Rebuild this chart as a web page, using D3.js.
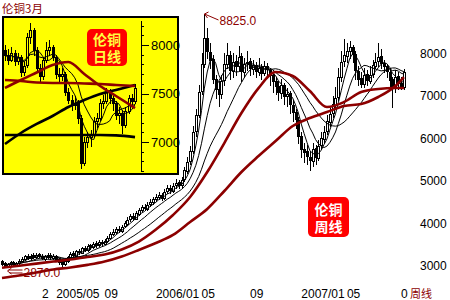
<!DOCTYPE html>
<html><head><meta charset="utf-8">
<script src="https://cdn.jsdelivr.net/npm/d3@7"></script>
<style>body{margin:0;background:#fff;}svg{display:block;}</style>
</head><body>
<svg id="c" width="450" height="300"></svg>
<script>
// ---------- weekly data (LME 3-month copper) ----------
const wOpen = [3000,2960,2890,2950,2990,2920,2970,3000,3060,3130,
3080,3150,3100,3170,3140,3070,3110,3160,3090,3140,
3070,3000,2940,3010,3100,3190,3140,3250,3210,3320,
3270,3380,3330,3430,3380,3470,3420,3490,3550,3650,
3690,3770,3720,3830,3890,3990,4070,4010,4120,4220,
4290,4240,4350,4390,4470,4510,4570,4490,4650,4730,
4670,4790,4860,4790,4930,5140,5360,5590,6060,6440,
7010,7640,8260,7940,7760,7290,7060,6940,7260,7640,
7860,7490,7710,7590,7830,7470,7660,7710,7540,7630,
7470,7570,7430,7610,7510,7390,7240,7130,6970,7160,
6890,6960,6690,6530,6340,5960,5640,5590,5470,5370,
5660,5440,5730,5890,6060,6290,6490,6690,6860,7340,
7710,7840,7960,8040,7890,7490,7310,7170,7410,7250,
7410,7610,7710,7830,7670,7610,7470,7290,7090,7360,
7210,7100];
const wHigh = [3040,2990,2970,3020,3020,2990,3050,3100,3160,3170,
3180,3190,3200,3210,3170,3150,3190,3190,3170,3160,
3090,3030,3050,3140,3230,3240,3280,3300,3350,3370,
3410,3420,3460,3480,3500,3510,3530,3610,3690,3760,
3820,3830,3870,3960,4040,4120,4130,4180,4270,4340,
4360,4390,4460,4520,4580,4630,4620,4700,4790,4800,
4850,4930,4920,5000,5230,5450,5720,6180,6600,7150,
7900,8825,8500,8150,7850,7400,7250,7400,7900,8150,
7950,7900,7850,8080,7900,7800,7950,7800,7750,7700,
7800,7650,7720,7680,7550,7450,7350,7250,7300,7200,
7080,7020,6800,6600,6400,6050,5800,5750,5600,5780,
5750,5850,6050,6200,6450,6620,6900,7100,7550,7950,
8230,8150,8200,8100,7950,7600,7450,7550,7500,7600,
7750,7900,8140,8000,7750,7650,7550,7350,7500,7450,
7350,7520];
const wLow = [2920,2870,2880,2920,2900,2890,2940,2980,3040,3060,
3060,3080,3080,3100,3050,3040,3090,3070,3060,3030,
2950,2890,2920,2990,3080,3110,3120,3180,3190,3240,
3250,3300,3310,3350,3360,3390,3400,3460,3530,3620,
3660,3690,3700,3800,3860,3950,3970,3990,4090,4180,
4200,4210,4310,4360,4430,4470,4440,4460,4610,4620,
4630,4740,4730,4760,4890,5080,5300,5550,5950,6400,
6950,7580,7800,7560,7200,6850,6650,6850,7150,7550,
7300,7350,7400,7500,7250,7350,7500,7400,7420,7350,
7380,7300,7380,7350,7150,7000,6950,6800,6850,6700,
6650,6500,6300,6150,5800,5450,5350,5300,5150,5250,
5300,5400,5650,5800,6000,6200,6400,6600,6800,7250,
7600,7700,7800,7700,7300,7150,7100,7100,7150,7200,
7350,7550,7600,7550,7450,7350,7100,6640,7000,7050,
7050,7070];
const wClose = [2950,2900,2940,2980,2930,2960,3010,3070,3120,3090,
3140,3110,3160,3130,3080,3120,3150,3100,3130,3060,
2990,2950,3020,3110,3180,3150,3240,3220,3310,3280,
3370,3340,3420,3390,3460,3430,3480,3560,3640,3700,
3760,3730,3820,3900,3980,4060,4020,4130,4210,4280,
4250,4340,4400,4460,4520,4560,4500,4640,4720,4680,
4780,4850,4800,4920,5150,5350,5600,6050,6450,7000,
7650,8250,7950,7750,7300,7050,6950,7250,7650,7850,
7500,7700,7600,7820,7480,7650,7700,7550,7620,7480,
7560,7440,7600,7520,7380,7250,7120,6980,7150,6900,
6950,6700,6520,6350,5950,5650,5580,5480,5380,5650,
5450,5720,5900,6050,6300,6480,6700,6850,7350,7700,
7850,7950,8050,7880,7500,7300,7180,7400,7260,7400,
7620,7700,7820,7680,7600,7480,7280,7100,7350,7200,
7120,7450];
// long moving averages (thick dark red), read at these week indices
const longIdx = [0,6,12,18,24,30,36,42,48,54,60,66,72,78,84,90,96,102,108,114,120,126,132,138,141];
const maMid  = [2852,2900,2950,2998,3045,3106,3162,3282,3468,3751,4094,4518,5106,5788,6494,7082,7459,7365,7012,6635,6753,6988,7059,7082,7082];
const maLong = [2612,2671,2741,2812,2859,2920,2998,3118,3271,3435,3624,3929,4235,4659,5106,5482,5835,6188,6376,6518,6659,6706,6871,7129,7341];
const priceTicks = [8000,7000,6000,5000,4000,3000];
const dateTickIdx = [14,19,36,54,70,87,105,121,140];
const dateTickLabels = ["2","2005/05","09","2006/01","05","09","2007/01","05","0"];

// ---------- daily inset data ----------
const dOpen = [7950,7900,7850,7920,7830,7880,7720,7790,8080,8150,7950,7760,7680,7850,7950,7980,7880,7700,7680,7700,7520,7430,7380,7400,7250,6780,7000,7050,7080,7220,7250,7400,7420,7520,7450,7400,7280,7300,7180,7320,7450,7420];
const dHigh = [8000,7960,7980,7950,7920,7900,7820,8120,8227,8180,7980,7800,7880,8030,8050,8000,7900,7760,7760,7720,7560,7480,7470,7430,7280,7050,7100,7120,7260,7300,7440,7480,7560,7550,7470,7420,7360,7330,7360,7480,7500,7600];
const dLow = [7850,7800,7830,7790,7800,7680,7690,7770,8020,7900,7720,7620,7650,7820,7900,7850,7660,7620,7640,7480,7400,7330,7340,7200,6730,6760,6950,6960,7050,7150,7230,7350,7400,7400,7330,7240,7200,7090,7150,7300,7380,7400];
const dClose = [7900,7850,7920,7830,7880,7720,7780,8080,8150,7950,7760,7680,7850,7950,7980,7880,7700,7680,7700,7520,7430,7380,7400,7250,6780,7000,7050,7080,7220,7250,7400,7420,7520,7450,7400,7280,7300,7180,7320,7450,7420,7560];
const dLineIdx = [0,5,10,15,20,25,30,35,41];
const dRedA = [7557,7639,7716,7794,7825,7701,7577,7474,7350];
const dRedB = [7639,7629,7613,7608,7608,7603,7598,7588,7577];
const dBlkA = [6979,7093,7186,7268,7361,7433,7495,7536,7588];
const dBlkB = [7072,7072,7072,7072,7072,7072,7072,7068,7050];
const insetLabelTicks = [8000,7500,7000];

// ---------- drawing ----------
const RED = "#8c0000";
const svg = d3.select("#c");
const NUM = "'Liberation Sans', Arial, sans-serif";
const CJK = "'Noto Sans CJK SC', sans-serif";

const x = d3.scaleLinear().domain([0, wClose.length - 1]).range([2, 403.9]);
const y = d3.scaleLinear().domain([2870, 8825]).range([267, 14]);

function movAvg(arr, n) {
  return arr.map((_, i) => d3.mean(arr.slice(Math.max(0, i - n + 1), i + 1)));
}

function drawCandles(g, xs, ys, O, H, L, C, hollowFill) {
  const data = O.map((o, i) => ({i, o, h: H[i], l: L[i], c: C[i]}));
  g.selectAll("line.wick").data(data).join("line").attr("class", "wick")
    .attr("x1", d => Math.round(xs(d.i)) + 0.5).attr("x2", d => Math.round(xs(d.i)) + 0.5)
    .attr("y1", d => Math.round(ys(d.h))).attr("y2", d => Math.round(ys(d.l)) + 1)
    .attr("stroke", "#000").attr("stroke-width", 1);
  g.selectAll("rect.body").data(data).join("rect").attr("class", "body")
    .each(function(d) {
      const cx = Math.round(xs(d.i));
      const top = Math.round(ys(Math.max(d.o, d.c)));
      const bot = Math.round(ys(Math.min(d.o, d.c)));
      const s = d3.select(this);
      if (d.c >= d.o) {
        s.attr("x", cx - 0.5).attr("y", top + 0.5).attr("width", 2).attr("height", Math.max(bot - top, 1))
         .attr("fill", hollowFill).attr("stroke", "#000").attr("stroke-width", 1);
      } else {
        s.attr("x", cx - 1).attr("y", top).attr("width", 3).attr("height", Math.max(bot - top, 1) + 1)
         .attr("fill", "#000");
      }
    });
}

// main candles
const gMain = svg.append("g").attr("shape-rendering", "crispEdges");
drawCandles(gMain, x, y, wOpen, wHigh, wLow, wClose, "#fff");

// thin MAs
const lineW = d3.line().x((d, i) => x(i)).y(d => y(d));
[5, 10, 20].forEach(n => {
  svg.append("path").attr("d", lineW(movAvg(wClose, n)))
    .attr("fill", "none").attr("stroke", "#000").attr("stroke-width", 1);
});
// thick MAs
const lineL = d3.line().x((d, k) => x(longIdx[k])).y(d => y(d)).curve(d3.curveMonotoneX);
[maMid, maLong].forEach(arr => {
  svg.append("path").attr("d", lineL(arr))
    .attr("fill", "none").attr("stroke", RED).attr("stroke-width", 2.6);
});

// annotations high / low
const hiI = d3.maxIndex(wHigh), loI = d3.minIndex(wLow);
const hx = Math.round(x(hiI)) + 0.5, hy = y(wHigh[hiI]);
svg.append("path").attr("d", `M${hx+4},${hy-2} L${hx},${hy} L${hx+3},${hy+4} M${hx},${hy} L${hx+14},${hy+6}`)
  .attr("fill", "none").attr("stroke", RED).attr("stroke-width", 1);
svg.append("text").attr("x", hx + 15).attr("y", hy + 11).text(wHigh[hiI].toFixed(1))
  .attr("font-family", NUM).attr("font-size", 12).attr("fill", RED);
const lx = Math.round(x(loI)) + 0.5, ly = y(wLow[loI]);
svg.append("path").attr("d", `M${lx+6},${ly+1} L${lx+2},${ly+4} L${lx+6},${ly+7} M${lx+3},${ly+3} L${lx+17},${ly+3} M${lx+4},${ly+6} L${lx+17},${ly+6}`)
  .attr("fill", "none").attr("stroke", RED).attr("stroke-width", 1);
svg.append("text").attr("x", lx + 18).attr("y", ly + 10).text(wLow[loI].toFixed(1))
  .attr("font-family", NUM).attr("font-size", 12).attr("fill", RED);

// right price axis
const axR = svg.append("g").attr("transform", "translate(418,0)")
  .call(d3.axisRight(y).tickValues(priceTicks).tickSize(0).tickPadding(2).tickFormat(d3.format("d")));
axR.select(".domain").remove();
axR.selectAll("text").attr("font-family", NUM).attr("font-size", 12).attr("fill", "#000").attr("y", 4.5);

// bottom date labels
svg.append("g").selectAll("text").data(dateTickIdx).join("text")
  .attr("x", d => x(d)).attr("y", 298).text((d, k) => dateTickLabels[k])
  .attr("font-family", NUM).attr("font-size", 12).attr("fill", "#000");
svg.append("text").attr("x", 410).attr("y", 298).text("周线")
  .attr("font-family", CJK).attr("font-size", 11).attr("fill", RED);

// title
svg.append("text").attr("x", 2).attr("y", 13).text("伦铜3月")
  .attr("font-family", CJK).attr("font-size", 11.5).attr("fill", RED);

// weekly badge (one text element, two lines)
svg.append("rect").attr("x", 308).attr("y", 197).attr("width", 41).attr("height", 40).attr("rx", 5).attr("fill", "#f00");
const wb = svg.append("text").attr("text-anchor", "middle")
  .attr("font-family", CJK).attr("font-weight", "bold").attr("font-size", 14).attr("fill", "#fff");
wb.append("tspan").attr("x", 328.5).attr("y", 215).text("伦铜");
wb.append("tspan").attr("x", 328.5).attr("y", 232).text("周线");

// ---------- inset ----------
const inset = svg.append("g");
inset.append("rect").attr("x", 3).attr("y", 17).attr("width", 175).attr("height", 157)
  .attr("fill", "#ffff00").attr("stroke", "#000").attr("stroke-width", 2);
svg.append("clipPath").attr("id", "ic").append("rect").attr("x", 4).attr("y", 18).attr("width", 137).attr("height", 155);
const xi = d3.scaleLinear().domain([0, dClose.length - 1]).range([5, 135]);
const yi = d3.scaleLinear().domain([7000, 8000]).range([142, 45]);
const gIn = inset.append("g").attr("clip-path", "url(#ic)");
const gInC = gIn.append("g").attr("shape-rendering", "crispEdges");
drawCandles(gInC, xi, yi, dOpen, dHigh, dLow, dClose, "#ffff00");
const lineD = d3.line().x((d, i) => xi(i)).y(d => yi(d));
[5, 10].forEach(n => {
  gIn.append("path").attr("d", lineD(movAvg(dClose, n)))
    .attr("fill", "none").attr("stroke", "#000").attr("stroke-width", 1);
});
const lineDI = d3.line().x((d, k) => xi(dLineIdx[k])).y(d => yi(d)).curve(d3.curveMonotoneX);
[[dBlkB, "#000"], [dBlkA, "#000"], [dRedB, RED], [dRedA, RED]].forEach(([arr, col]) => {
  gIn.append("path").attr("d", lineDI(arr)).attr("fill", "none").attr("stroke", col).attr("stroke-width", 2.6);
});
// inset axis
const minor = d3.range(6700, 8201, 100);
inset.append("line").attr("x1", 141.5).attr("x2", 141.5).attr("y1", 21).attr("y2", 172)
  .attr("stroke", "#000").attr("stroke-width", 1);
inset.append("g").attr("shape-rendering", "crispEdges").selectAll("line").data(minor).join("line")
  .attr("x1", 141).attr("x2", d => d % 500 === 0 ? 149 : 144)
  .attr("y1", d => Math.round(yi(d)) + 0.5).attr("y2", d => Math.round(yi(d)) + 0.5)
  .attr("stroke", "#000");
inset.append("g").selectAll("text").data(insetLabelTicks).join("text")
  .attr("x", 151).attr("y", d => yi(d)).attr("dy", "0.36em").text(d => d)
  .attr("font-family", NUM).attr("font-size", 13).attr("fill", "#000");
// daily badge (one text element, two lines)
inset.append("rect").attr("x", 87).attr("y", 29).attr("width", 40).attr("height", 37).attr("rx", 5).attr("fill", "#f00");
const db = inset.append("text").attr("text-anchor", "middle")
  .attr("font-family", CJK).attr("font-weight", "bold").attr("font-size", 14).attr("fill", "#ffff40");
db.append("tspan").attr("x", 107).attr("y", 45).text("伦铜");
db.append("tspan").attr("x", 107).attr("y", 62).text("日线");
</script>
</body></html>
